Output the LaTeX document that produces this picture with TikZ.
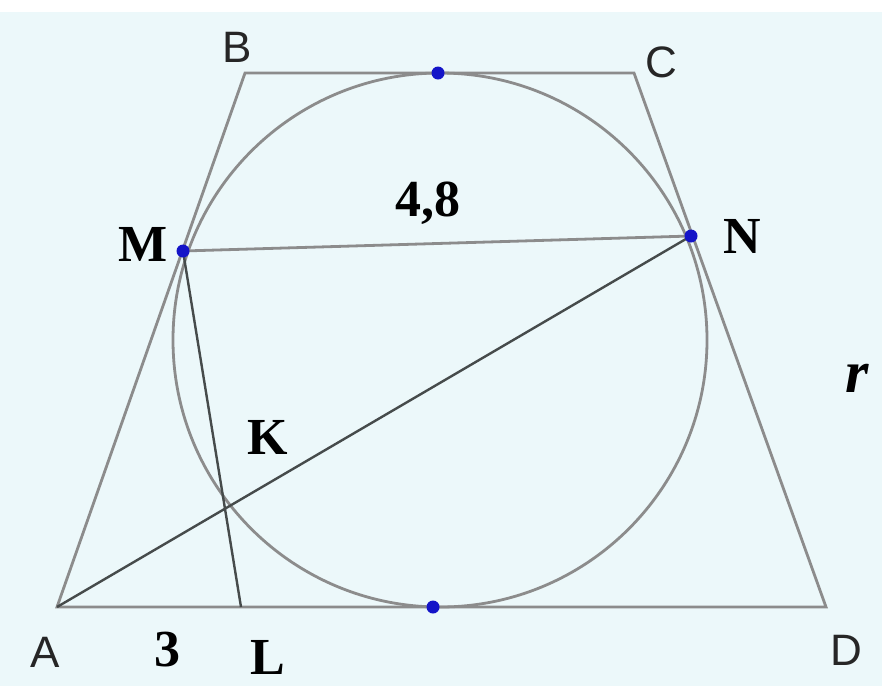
\documentclass[tikz,border=0pt]{standalone}
\usepackage{fontspec}
\setmainfont{Liberation Serif}
\newfontfamily\lsans{Liberation Sans}
\usetikzlibrary{calc}
\definecolor{bgc}{RGB}{236,248,250}
\definecolor{linec}{RGB}{140,140,140}
\definecolor{darkc}{RGB}{70,75,75}
\definecolor{dotc}{RGB}{20,20,200}
\tikzset{
  edge/.style={draw=linec, line width=2.8pt},
  darkedge/.style={draw=darkc, line width=2.4pt},
  dotpt/.style={circle, fill=dotc, inner sep=0pt, minimum size=13pt},
  vlab/.style={font=\lsans\fontsize{44}{44}\selectfont, text=black!85},
  blab/.style={font=\bfseries\fontsize{52}{52}\selectfont, text=black},
}
\begin{document}
\begin{tikzpicture}[x=1pt,y=-1pt]
\useasboundingbox (0,0) rectangle (882,686);
\fill[bgc] (0,0) rectangle (882,686);
\fill[white] (0,0) rectangle (882,12);
\coordinate (A) at (57,607);
\coordinate (B) at (245,73);
\coordinate (C) at (634,73);
\coordinate (D) at (826,607);
\coordinate (O) at (440,340);
\coordinate (M) at (183,251);
\coordinate (N) at (691,236);
\coordinate (L) at (241,607);
\draw[edge] (A) -- (B) -- (C) -- (D) -- cycle;
\draw[edge] (O) circle (267);
\draw[edge] (M) -- (N);
\draw[darkedge] (M) -- (L);
\draw[darkedge] (A) -- (N);
\coordinate (K) at (intersection of A--N and M--L);
\node[dotpt] (T1) at (438,73) {};
\node[dotpt] (T2) at (433,607) {};
\node[dotpt] (Md) at (M) {};
\node[dotpt] (Nd) at (N) {};
\node[vlab] (lB) at (237,47) {B};
\node[vlab] (lC) at (661,62) {C};
\node[vlab] (lA) at (45,652) {A};
\node[vlab] (lD) at (846,650) {D};
\node[blab] (lM) at (143,244) {M};
\node[blab] (lN) at (742,236) {N};
\node[blab] (lK) at (268,437) {K};
\node[blab] (lL) at (268,657) {L};
\node[blab] (l3) at (167,650) {3};
\node[blab] (l48) at (428,203) {4,8};
\node[font=\bfseries\itshape\fontsize{60}{60}\selectfont] (lr) at (857,378) {r};
\end{tikzpicture}
\end{document}
